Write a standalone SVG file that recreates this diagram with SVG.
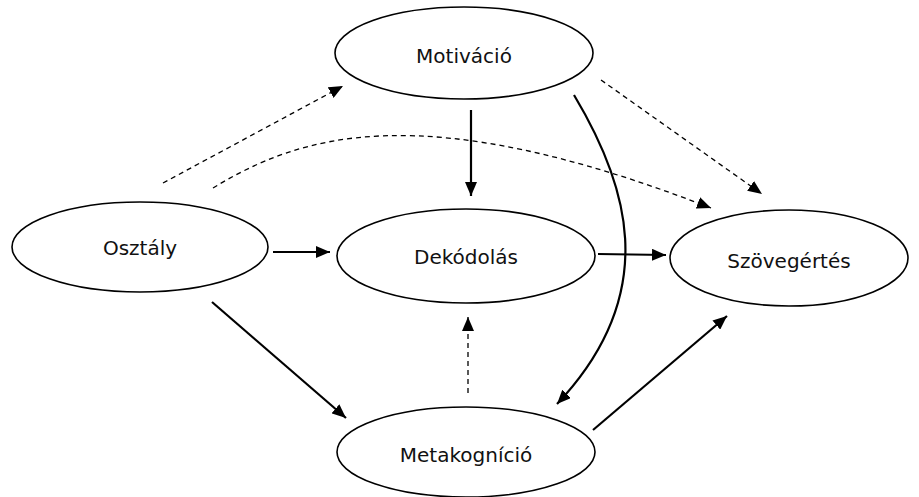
<svg xmlns="http://www.w3.org/2000/svg" width="919" height="497" viewBox="0 0 919 497">
<style>
.node ellipse{fill:#fff;stroke:#000;stroke-width:1.6}
.node text{font-family:"DejaVu Sans",Verdana,sans-serif;font-size:20px;fill:#111;text-anchor:middle}
.solid{fill:none;stroke:#000;stroke-width:2.2;marker-end:url(#ah)}
.dash{fill:none;stroke:#000;stroke-width:1.3;stroke-dasharray:5 4;marker-end:url(#ah)}
</style>
<defs>
<marker id="ah" markerUnits="userSpaceOnUse" markerWidth="14" markerHeight="12" refX="14" refY="6" orient="auto">
<path d="M0,0 L14,6 L0,12 z" fill="#000"/>
</marker>
</defs>
<rect width="919" height="497" fill="#fff"/>
<g id="connectors">
<line class="dash" x1="163" y1="183" x2="343" y2="86"/>
<path class="dash" d="M213,188 C300,135 420,95 711,208"/>
<line class="dash" x1="601" y1="80" x2="762" y2="194"/>
<line class="solid" x1="471" y1="110" x2="471" y2="196"/>
<path class="solid" d="M574,95 C625,180 665,290 557,404"/>
<line class="solid" x1="273" y1="252" x2="330" y2="252"/>
<line class="solid" x1="598" y1="254" x2="666" y2="255"/>
<line class="solid" x1="212" y1="302" x2="346" y2="418"/>
<line class="dash" x1="468" y1="393" x2="468" y2="317"/>
<line class="solid" x1="593" y1="430" x2="727" y2="316"/>
</g>
<g id="motivacio" class="node"><ellipse cx="464" cy="53" rx="129" ry="46"/><text x="464" y="63">Motiváció</text></g>
<g id="osztaly" class="node"><ellipse cx="140" cy="247" rx="128" ry="45"/><text x="140" y="255">Osztály</text></g>
<g id="dekodolas" class="node"><ellipse cx="466" cy="256" rx="129" ry="47"/><text x="466" y="264">Dekódolás</text></g>
<g id="szovegertes" class="node"><ellipse cx="789" cy="258" rx="119" ry="48"/><text x="789" y="268">Szövegértés</text></g>
<g id="metakognicio" class="node"><ellipse cx="466" cy="452" rx="129" ry="45"/><text x="466" y="462">Metakogníció</text></g>
</svg>
